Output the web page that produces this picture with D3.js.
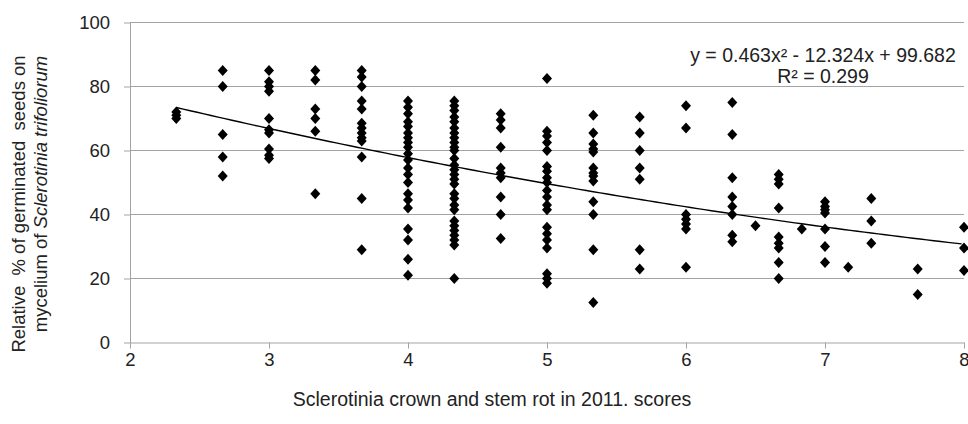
<!DOCTYPE html>
<html>
<head>
<meta charset="utf-8">
<script src="https://cdn.jsdelivr.net/npm/d3@7"></script>
<style>
  body { margin: 0; background: #fff; }
  text { font-family: "Liberation Sans", Arial, sans-serif; fill: #222; }
</style>
</head>
<body>
<svg id="chart" width="968" height="424"></svg>
<script>
// disease score of each column of points
const scores = [2.333, 2.667, 3, 3.333, 3.667, 4, 4.333, 4.667, 5, 5.333, 5.667, 6, 6.333, 6.5, 6.667, 6.833, 7, 7.167, 7.333, 7.667, 8];

// relative % of germinated seeds, one list per score above
const germination = [
    [72, 71, 70],
    [85, 80, 65, 58, 52],
    [85, 81.5, 80, 78.5, 70, 66.5, 65.5, 60.5, 58.5, 57.5],
    [85, 82, 73, 70, 66, 46.5],
    [85, 83, 80, 75.5, 73, 68.5, 67, 65.5, 64, 63, 58, 45, 29],
    [75.5, 73.5, 71.5, 69, 67.5, 65.5, 64, 62.5, 61, 59, 57, 54.5, 52.5, 50, 46.5, 44.5, 42, 35.5, 32, 26, 21],
    [75.5, 74, 72.5, 70.5, 69, 67, 65.5, 64, 62.5, 61, 60, 57.5, 55.5, 54, 52.5, 51, 49.5, 46.5, 45, 43, 41.5, 38, 36.5, 35, 33.5, 32, 30.5, 20],
    [71.5, 69.5, 67, 61, 54.5, 53, 51.5, 45.5, 40, 32.5],
    [82.5, 66, 64.5, 62.5, 60, 55, 53.5, 51.5, 50, 47.5, 45.5, 43, 41.5, 36, 34, 32, 29.5, 21.5, 20, 18.5],
    [71, 65.5, 62, 60.5, 59.5, 54.5, 53, 52, 50.5, 44, 40, 29, 12.5],
    [70.5, 65.5, 60, 54.5, 51, 29, 23],
    [74, 67, 40, 38.5, 37, 35.5, 23.5],
    [75, 65, 51.5, 45.5, 42.5, 40, 33.5, 31.5],
    [36.5],
    [52.5, 51, 49.5, 42, 33, 31, 29.5, 25, 20],
    [35.5],
    [44, 42.5, 41.5, 40.5, 35.5, 30, 25],
    [23.5],
    [45, 38, 31],
    [23, 15],
    [36, 29.5, 22.5]
];

// polynomial trend line y = c0 + c1*x + c2*x^2
const trendCoef = [99.682, -12.324, 0.463];
const trendLabel = "y = 0.463x² - 12.324x + 99.682";
const r2Label = "R² = 0.299";

const xTicks = [2, 3, 4, 5, 6, 7, 8];
const yTicks = [0, 20, 40, 60, 80, 100];

const xTitle = "Sclerotinia crown and stem rot in 2011. scores";

var svg = d3.select("#chart");
var gridColor = "#a3a3a3";

var x = d3.scaleLinear().domain([2, 8]).range([130, 964]);
var y = d3.scaleLinear().domain([0, 100]).range([342.5, 22.5]);

// horizontal gridlines
svg.append("g")
    .selectAll("line")
    .data(yTicks.filter(d => d > 0))
    .join("line")
    .attr("x1", x(2))
    .attr("x2", x(8))
    .attr("y1", d => y(d))
    .attr("y2", d => y(d))
    .style("stroke", gridColor)
    .style("stroke-width", 1);

// axes
var yAxis = svg.append("g")
    .attr("transform", "translate(" + x(2) + ",0)")
    .call(d3.axisLeft(y).tickValues(yTicks).tickSize(6).tickPadding(14).tickSizeOuter(0));

var xAxis = svg.append("g")
    .attr("transform", "translate(0," + y(0) + ")")
    .call(d3.axisBottom(x).tickValues(xTicks).tickFormat(d3.format("d")).tickSize(6).tickPadding(4).tickSizeOuter(0));

[yAxis, xAxis].forEach(function(a) {
    a.select(".domain").style("stroke", gridColor);
    a.selectAll(".tick line").style("stroke", gridColor);
    a.selectAll("text")
        .style("font-size", "18.5px")
        .style("font-family", "'Liberation Sans', Arial, sans-serif")
        .style("fill", "#222");
});

// points
var points = [];
scores.forEach(function(s, i) {
    germination[i].forEach(function(v) { points.push({score: s, value: v}); });
});

svg.append("g")
    .selectAll("path")
    .data(points)
    .join("path")
    .attr("d", "M0,-5.5L5,0L0,5.5L-5,0Z")
    .attr("transform", d => "translate(" + x(d.score) + "," + y(d.value) + ")")
    .style("fill", "#000");

// trend line
var trendX = d3.range(scores[0], 8.0001, 0.05);
var trend = trendX.map(t => [t, trendCoef[0] + trendCoef[1] * t + trendCoef[2] * t * t]);

svg.append("path")
    .datum(trend)
    .attr("d", d3.line().x(d => x(d[0])).y(d => y(d[1])))
    .style("fill", "none")
    .style("stroke", "#000")
    .style("stroke-width", 1.4);

// equation labels
svg.append("text")
    .attr("x", 823)
    .attr("y", 62)
    .attr("text-anchor", "middle")
    .style("font-size", "19.5px")
    .text(trendLabel);

svg.append("text")
    .attr("x", 823)
    .attr("y", 83)
    .attr("text-anchor", "middle")
    .style("font-size", "19.5px")
    .text(r2Label);

// axis titles
svg.append("text")
    .attr("x", 492)
    .attr("y", 406)
    .attr("text-anchor", "middle")
    .style("font-size", "19.5px")
    .text(xTitle);

svg.append("text")
    .attr("transform", "translate(25,204) rotate(-90)")
    .attr("text-anchor", "middle")
    .style("font-size", "18.5px")
    .style("white-space", "pre")
    .text("Relative  % of germinated  seeds on");

var yTitle2 = svg.append("text")
    .attr("transform", "translate(47,194) rotate(-90)")
    .attr("text-anchor", "middle")
    .style("font-size", "18.5px");
yTitle2.append("tspan").text("mycelium of ");
yTitle2.append("tspan").style("font-style", "italic").text("Sclerotinia trifoliorum");
</script>
</body>
</html>
